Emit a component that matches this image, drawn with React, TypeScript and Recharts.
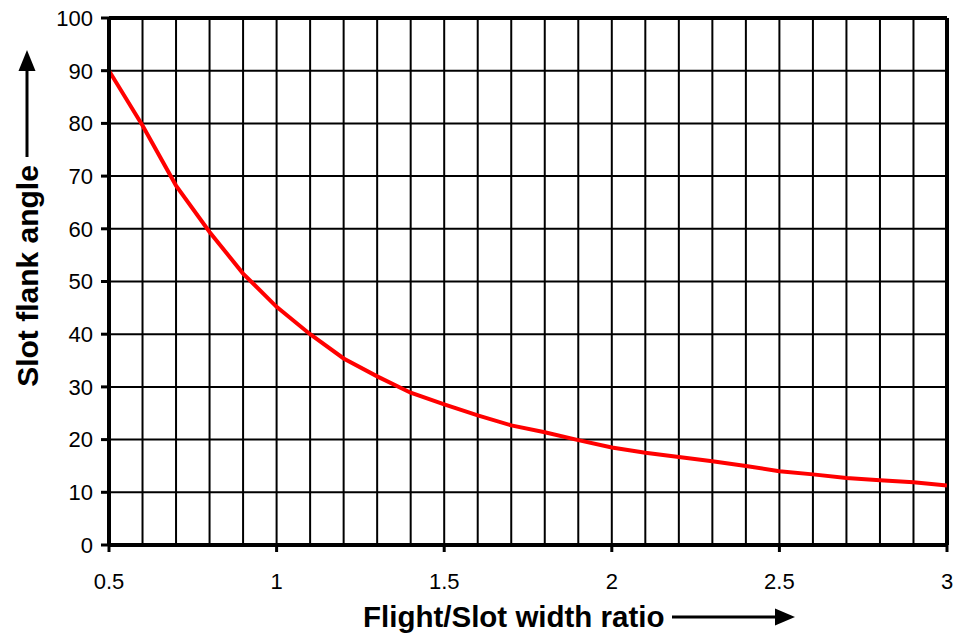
import React from "react";
import {
  LineChart,
  Line,
  XAxis,
  YAxis,
  CartesianGrid,
  ReferenceLine,
  Label,
} from "recharts";

const ratioValues = [
  0.5, 0.6, 0.7, 0.8, 0.9, 1.0, 1.1, 1.2, 1.3, 1.4, 1.5, 1.6, 1.7, 1.8, 1.9,
  2.0, 2.1, 2.2, 2.3, 2.4, 2.5, 2.6, 2.7, 2.8, 2.9, 3.0,
];
const angleValues = [
  90, 79.6, 68.2, 59.4, 51.5, 45.2, 40, 35.4, 32, 28.9, 26.7, 24.6, 22.7, 21.4,
  19.9, 18.5, 17.5, 16.7, 15.9, 15.0, 14.0, 13.4, 12.7, 12.3, 11.9, 11.3,
];
const xTicks = [0.5, 1, 1.5, 2, 2.5, 3];
const xMinorGrid = [
  0.6, 0.7, 0.8, 0.9, 1.1, 1.2, 1.3, 1.4, 1.6, 1.7, 1.8, 1.9, 2.1, 2.2, 2.3,
  2.4, 2.6, 2.7, 2.8, 2.9,
];
const yTicks = [0, 10, 20, 30, 40, 50, 60, 70, 80, 90, 100];

const xTitle = "Flight/Slot width ratio";
const yTitle = "Slot flank angle";

const data = ratioValues.map((r, i) => ({ ratio: r, angle: angleValues[i] }));

const FONT = '"Liberation Sans", Arial, Helvetica, sans-serif';

const XTitle = (props: any) => {
  const vb = props.viewBox || { x: 109, y: 545 };
  const tx = vb.x + 254;
  const ty = vb.y + 82;
  const ay = vb.y + 72;
  const ax0 = vb.x + 563;
  const tip = vb.x + 686;
  return (
    <g>
      <text
        x={tx}
        y={ty}
        fontFamily={FONT}
        fontWeight="bold"
        fontSize={29.5}
        fill="#000"
        textAnchor="start"
      >
        {xTitle}
      </text>
      <line x1={ax0} y1={ay} x2={tip - 18} y2={ay} stroke="#000" strokeWidth={3} />
      <polygon
        points={`${tip},${ay} ${tip - 20},${ay - 8.5} ${tip - 20},${ay + 8.5}`}
        fill="#000"
      />
    </g>
  );
};

const YTitle = (props: any) => {
  const vb = props.viewBox || { x: 0, y: 18 };
  const cx = vb.x + 27;
  const cy = vb.y + 258;
  const tipY = vb.y + 32;
  const lineBottom = vb.y + 139;
  return (
    <g>
      <text
        x={cx}
        y={cy}
        transform={`rotate(-90 ${cx} ${cy})`}
        fontFamily={FONT}
        fontWeight="bold"
        fontSize={30}
        fill="#000"
        textAnchor="middle"
        dominantBaseline="central"
      >
        {yTitle}
      </text>
      <line x1={cx} y1={lineBottom} x2={cx} y2={tipY + 18} stroke="#000" strokeWidth={3} />
      <polygon
        points={`${cx},${tipY} ${cx - 8.5},${tipY + 21} ${cx + 8.5},${tipY + 21}`}
        fill="#000"
      />
    </g>
  );
};

export default function App() {
  return (
    <div style={{ position: "absolute", left: 0, top: 0, width: 958, height: 638, background: "#fff" }}>
      <LineChart
        width={958}
        height={638}
        data={data}
        margin={{ top: 18, right: 11, bottom: 0, left: 0 }}
      >
        <CartesianGrid stroke="#000" strokeWidth={2} />
        {xMinorGrid.map((v) => (
          <ReferenceLine key={v} x={v} stroke="#000" strokeWidth={2} />
        ))}
        <ReferenceLine y={100} stroke="#000" strokeWidth={4} />
        <ReferenceLine x={3} stroke="#000" strokeWidth={4} />
        <XAxis
          dataKey="ratio"
          type="number"
          domain={[0.5, 3]}
          ticks={xTicks}
          allowDataOverflow
          height={93}
          tickSize={7}
          tickMargin={21}
          axisLine={{ stroke: "#000", strokeWidth: 4 }}
          tickLine={{ stroke: "#000", strokeWidth: 3 }}
          tick={{ fill: "#000", fontSize: 22, fontFamily: FONT }}
          interval={0}
        >
          <Label content={<XTitle />} position="insideBottom" />
        </XAxis>
        <YAxis
          type="number"
          domain={[0, 100]}
          ticks={yTicks}
          width={109}
          tickSize={8}
          tickMargin={8}
          axisLine={{ stroke: "#000", strokeWidth: 4 }}
          tickLine={{ stroke: "#000", strokeWidth: 3 }}
          tick={{ fill: "#000", fontSize: 22, fontFamily: FONT }}
          interval={0}
        >
          <Label content={<YTitle />} position="insideLeft" />
        </YAxis>
        <Line
          type="linear"
          dataKey="angle"
          stroke="#ff0000"
          strokeWidth={4}
          dot={false}
          isAnimationActive={false}
        />
      </LineChart>
    </div>
  );
}
